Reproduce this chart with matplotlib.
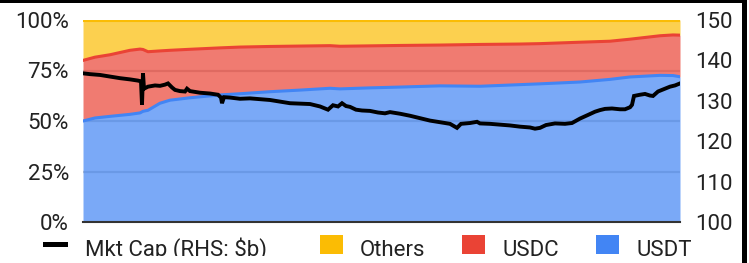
import matplotlib
matplotlib.use("Agg")
import matplotlib.pyplot as plt
from matplotlib.patches import Rectangle
import numpy as np

# stablecoin market share (%), sampled by day index
share_days = [0, 12, 27, 47, 57, 60, 65, 77, 87, 107, 137, 157, 187, 217, 247, 257,
              287, 317, 357, 397, 437, 457, 497, 527, 547, 577, 590, 597]
usdt = [50.0, 51.5, 52.3, 53.3, 54.0, 54.8, 55.3, 58.8, 60.3, 61.5, 62.9, 63.5, 64.5, 65.3,
        66.2, 65.9, 66.4, 66.8, 67.4, 67.2, 68.0, 68.4, 69.3, 70.6, 71.8, 72.6, 72.5, 71.9]
usdc = [30.0, 30.1, 30.5, 31.7, 31.6, 30.6, 29.0, 25.9, 24.7, 24.0, 23.3, 23.1, 22.4, 21.8,
        21.1, 21.1, 20.8, 20.6, 20.2, 20.7, 20.1, 19.9, 19.7, 18.9, 18.7, 19.6, 20.1, 20.6]
others = [20.0, 18.4, 17.2, 15.0, 14.4, 14.6, 15.7, 15.3, 15.0, 14.5, 13.8, 13.4, 13.1, 12.9,
          12.7, 13.0, 12.8, 12.6, 12.4, 12.1, 11.9, 11.7, 11.0, 10.5, 9.5, 7.8, 7.4, 7.5]

# total market cap ($b, right axis)
cap_days = [0, 7, 17, 27, 37, 47, 55, 58, 59, 60, 61, 65, 72, 77, 82, 85, 89, 92, 97, 102,
            104, 107, 117, 127, 135, 138, 139, 141, 147, 157, 167, 177, 187, 197, 207, 217,
            227, 237, 245, 250, 255, 259, 263, 267, 273, 279, 287, 295, 302, 307, 317, 327,
            337, 347, 357, 367, 374, 378, 387, 394, 397, 407, 417, 427, 437, 447, 452, 457,
            463, 472, 482, 489, 497, 505, 512, 517, 522, 529, 537, 542, 547, 549, 551, 557,
            562, 567, 570, 575, 582, 587, 592, 597]
mkt_cap = [136.8, 136.6, 136.4, 136.0, 135.6, 135.3, 135.0, 134.8, 129.0, 136.8, 133.0, 133.5,
           133.8, 133.7, 134.0, 134.3, 133.3, 132.7, 132.4, 132.3, 133.0, 132.4, 132.0, 131.8,
           131.5, 130.8, 129.4, 130.9, 130.8, 130.5, 130.6, 130.4, 130.2, 129.8, 129.4, 129.3,
           129.2, 128.6, 127.8, 128.9, 128.6, 129.4, 128.7, 128.5, 127.8, 127.6, 127.5, 127.1,
           126.9, 127.2, 126.8, 126.3, 125.7, 125.1, 124.7, 124.3, 123.3, 124.3, 124.5, 124.8,
           124.4, 124.3, 124.1, 123.9, 123.6, 123.4, 123.1, 123.3, 124.0, 124.4, 124.3, 124.5,
           125.6, 126.5, 127.3, 127.7, 128.0, 128.1, 127.9, 127.9, 128.4, 129.0, 131.2, 131.5,
           131.7, 131.3, 131.2, 132.3, 133.0, 133.5, 133.8, 134.3]

plt.rcParams["font.family"] = ["Roboto", "DejaVu Sans"]

W, H = 749, 263
fig = plt.figure(figsize=(W / 100, H / 100), dpi=100)
fig.patch.set_facecolor("white")

# plot area in pixels: x 83..680, y 20..222 (from top)
ax = fig.add_axes([83 / W, (H - 222) / H, (680 - 83) / W, (222 - 20) / H])

x = np.array(share_days)
l1 = np.array(usdt)
l2 = l1 + np.array(usdc)
l3 = l2 + np.array(others)

blue, red, yellow = "#4285F4", "#EA4335", "#FBBC04"
ax.fill_between(x, 0, l1, color=blue, alpha=0.7, lw=0, zorder=2)
ax.fill_between(x, l1, l2, color=red, alpha=0.7, lw=0, zorder=2)
ax.fill_between(x, l2, l3, color=yellow, alpha=0.7, lw=0, zorder=2)
ax.plot(x, l1, color=blue, lw=2.2, zorder=3, solid_joinstyle="round")
ax.plot(x, l2, color=red, lw=2.2, zorder=3, solid_joinstyle="round")
ax.plot(x, l3, color=yellow, lw=2.2, zorder=3)

ax.set_xlim(0, 597)
ax.set_ylim(0, 100)
ax.set_yticks([0, 25, 50, 75, 100])
ax.set_yticklabels([f"{v}%" for v in [0, 25, 50, 75, 100]])
ax.set_xticks([])
for v in [25, 50, 75]:
    ax.axhline(v, color="#c8c8c8", lw=1.6, zorder=1)
for s in ["top", "right", "left"]:
    ax.spines[s].set_visible(False)
ax.spines["bottom"].set_color("#333333")
ax.spines["bottom"].set_linewidth(1.5)
ax.spines["bottom"].set_zorder(5)
ax.tick_params(axis="y", length=0, pad=10, labelsize=16, labelcolor="#222222")

ax2 = ax.twinx()
ax2.plot(cap_days, mkt_cap, color="black", lw=2.8, zorder=4, solid_joinstyle="miter")
ax2.set_ylim(100, 150)
ax2.set_yticks([100, 110, 120, 130, 140, 150])
ax2.set_xlim(0, 597)
for s in ["top", "right", "left", "bottom"]:
    ax2.spines[s].set_visible(False)
ax2.tick_params(axis="y", length=0, pad=11, labelsize=16, labelcolor="#222222")

# legend, drawn by hand along the bottom
def fx(px):
    return px / W

def fy(py):
    return (H - py) / H

fig.add_artist(Rectangle((fx(43), fy(247)), 25 / W, 5 / H, transform=fig.transFigure,
                         color="black", lw=0))
items = [("Others", yellow, 320, 360), ("USDC", red, 462, 503), ("USDT", blue, 596, 637)]
fig.text(fx(85), fy(256), "Mkt Cap (RHS: $b)", fontsize=16, color="#222222", va="baseline")
for label, col, sx, tx in items:
    fig.add_artist(Rectangle((fx(sx), fy(254)), 23 / W, 19 / H, transform=fig.transFigure,
                             color=col, lw=0))
    fig.text(fx(tx), fy(256), label, fontsize=16, color="#222222", va="baseline")

# cropped bottom edge and frame lines
fig.add_artist(Rectangle((0, 0), 1, fy(256), transform=fig.transFigure,
                         color="white", lw=0, zorder=10))
fig.add_artist(Rectangle((0, fy(3)), fx(747), 3 / H, transform=fig.transFigure,
                         color="black", lw=0, zorder=11))
fig.add_artist(Rectangle((fx(742), 0), 5 / W, 1, transform=fig.transFigure,
                         color="black", lw=0, zorder=11))

fig.savefig("out.png", dpi=100)
